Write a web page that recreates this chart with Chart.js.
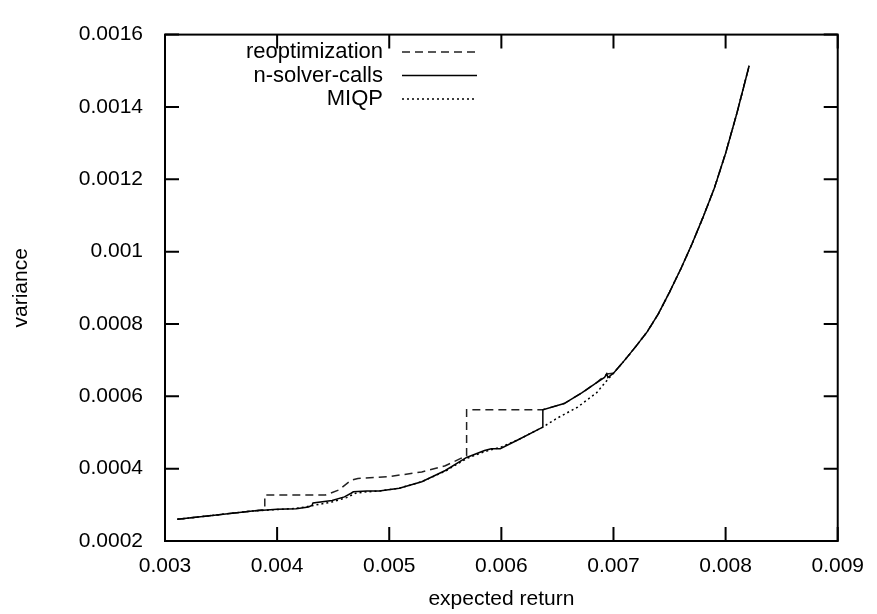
<!DOCTYPE html>
<html>
<head>
<meta charset="utf-8">
<script src="https://cdn.jsdelivr.net/npm/chart.js@4.4.1/dist/chart.umd.min.js"></script>
<style>
  html, body { margin:0; padding:0; background:#fff; }
</style>
</head>
<body>
<canvas id="c" width="877" height="614"></canvas>
<script>
// tick values + labels
const xTicks = [0.003, 0.004, 0.005, 0.006, 0.007, 0.008, 0.009];
const xTickLabels = ['0.003', '0.004', '0.005', '0.006', '0.007', '0.008', '0.009'];
const yTicks = [0.0002, 0.0004, 0.0006, 0.0008, 0.001, 0.0012, 0.0014, 0.0016];
const yTickLabels = ['0.0002', '0.0004', '0.0006', '0.0008', '0.001', '0.0012', '0.0014', '0.0016'];

// upper branch, shared by all three after x ~ 0.007
const topX = [0.00710, 0.00720, 0.00730, 0.00740, 0.00750, 0.00760, 0.00770, 0.00780, 0.00790, 0.00800, 0.00810, 0.00821];
const topY = [0.000700, 0.000738, 0.000778, 0.000828, 0.000888, 0.000952, 0.001021, 0.001096, 0.001176, 0.001272, 0.001382, 0.001514];

// reoptimization (dashed)
const reoptX = [0.00311, 0.00346, 0.00378, 0.00389, 0.00389, 0.00443, 0.00455, 0.00466, 0.00472, 0.00500, 0.00529, 0.00550, 0.00569, 0.00569, 0.00637,
  0.00656, 0.00672, 0.00685, 0.00694, 0.00700];
const reoptY = [0.000260, 0.000272, 0.000283, 0.000287, 0.000327, 0.000327, 0.000341, 0.000368, 0.000373, 0.000378, 0.000391, 0.000408, 0.000436, 0.000563, 0.000563,
  0.000580, 0.000610, 0.000638, 0.000662, 0.000664];

// n-solver-calls (solid)
const nsolvX = [0.00311, 0.00346, 0.00378, 0.00400, 0.00417, 0.00428, 0.00431, 0.00432, 0.00449, 0.00460, 0.00466, 0.00468, 0.00480, 0.00491, 0.00509,
  0.00529, 0.00550, 0.00569, 0.00585, 0.00591, 0.00599, 0.00615, 0.00637, 0.00637, 0.00656, 0.00672, 0.00685, 0.00692, 0.00694, 0.00695, 0.00700];
const nsolvY = [0.000260, 0.000272, 0.000283, 0.000288, 0.000289, 0.000294, 0.000298, 0.000305, 0.000312, 0.000322, 0.000332, 0.000336, 0.000338, 0.000338, 0.000346,
  0.000364, 0.000395, 0.000431, 0.000450, 0.000455, 0.000455, 0.000480, 0.000515, 0.000563, 0.000580, 0.000610, 0.000638, 0.000652, 0.000662, 0.000652, 0.000664];

// MIQP (dotted)
const miqpX = [0.00311, 0.00346, 0.00378, 0.00400, 0.00417, 0.00430, 0.00449, 0.00462, 0.00470, 0.00480, 0.00491, 0.00509, 0.00529, 0.00550, 0.00569,
  0.00585, 0.00600, 0.00615, 0.00637, 0.00650, 0.00668, 0.00685, 0.00695, 0.00700];
const miqpY = [0.000260, 0.000272, 0.000283, 0.000287, 0.000290, 0.000297, 0.000308, 0.000320, 0.000332, 0.000336, 0.000338, 0.000346, 0.000364, 0.000393, 0.000428,
  0.000447, 0.000460, 0.000480, 0.000515, 0.000540, 0.000570, 0.000610, 0.000647, 0.000664];

const pts = (xs, ys) => xs.map((x, i) => ({ x: x, y: ys[i] }));
const mitTop = (xs, ys) => pts(xs.concat(topX), ys.concat(topY));

const fnt = '"Liberation Sans", Arial, Helvetica, sans-serif';

// frame + inward ticks on all four sides (gnuplot look)
const rahmen = {
  id: 'rahmen',
  afterDatasetsDraw(chart) {
    const { ctx, chartArea: a, scales: { x, y } } = chart;
    const tl = 14;
    ctx.save();
    ctx.strokeStyle = '#000';
    ctx.lineWidth = 2;
    ctx.beginPath();
    xTicks.forEach(v => {
      const px = x.getPixelForValue(v);
      ctx.moveTo(px, a.bottom); ctx.lineTo(px, a.bottom - tl);
      ctx.moveTo(px, a.top); ctx.lineTo(px, a.top + tl);
    });
    yTicks.forEach(v => {
      const py = y.getPixelForValue(v);
      ctx.moveTo(a.left, py); ctx.lineTo(a.left + tl, py);
      ctx.moveTo(a.right, py); ctx.lineTo(a.right - tl, py);
    });
    ctx.stroke();
    ctx.strokeRect(a.left, a.top, a.right - a.left, a.bottom - a.top);
    ctx.restore();
  }
};

// legend: text right aligned, line sample to the right
const legende = {
  id: 'legende',
  afterDraw(chart) {
    const { ctx } = chart;
    ctx.save();
    ctx.font = '22px ' + fnt;
    ctx.textAlign = 'right';
    ctx.textBaseline = 'middle';
    chart.data.datasets.forEach((d, i) => {
      const yy = 52 + i * 23.5;
      ctx.fillStyle = '#000';
      ctx.fillText(d.label, 383, yy);
      ctx.strokeStyle = d.borderColor;
      ctx.lineWidth = d.borderWidth;
      ctx.setLineDash(d.borderDash || []);
      ctx.beginPath();
      ctx.moveTo(402, yy);
      ctx.lineTo(477, yy);
      ctx.stroke();
    });
    ctx.restore();
  }
};

new Chart(document.getElementById('c'), {
  type: 'scatter',
  data: {
    datasets: [
      { label: 'reoptimization', data: mitTop(reoptX, reoptY), showLine: true, pointRadius: 0, borderColor: '#222', borderWidth: 1.5, borderDash: [8, 5], order: 1 },
      { label: 'n-solver-calls', data: mitTop(nsolvX, nsolvY), showLine: true, pointRadius: 0, borderColor: '#000', borderWidth: 1.5, order: 0 },
      { label: 'MIQP', data: mitTop(miqpX, miqpY), showLine: true, pointRadius: 0, borderColor: '#000', borderWidth: 1.5, borderDash: [2, 3], order: 2 },
    ]
  },
  options: {
    responsive: false,
    animation: false,
    devicePixelRatio: 1,
    layout: { padding: { top: 21, right: 36, left: 0, bottom: 0 } },
    plugins: { legend: { display: false }, tooltip: { enabled: false } },
    scales: {
      x: {
        type: 'linear', min: 0.003, max: 0.009,
        afterBuildTicks: s => { s.ticks = xTicks.map(v => ({ value: v })) },
        afterFit: s => { s.height = 73 },
        grid: { display: false, drawTicks: false },
        border: { display: false },
        ticks: {
          color: '#000', font: { family: fnt, size: 21 }, padding: 13, maxRotation: 0,
          callback: (v, i) => xTickLabels[i]
        },
        title: { display: true, text: 'expected return', color: '#000', font: { family: fnt, size: 21 }, padding: { top: 0, bottom: 2 } }
      },
      y: {
        type: 'linear', min: 0.0002, max: 0.0016,
        afterBuildTicks: s => { s.ticks = yTicks.map(v => ({ value: v })) },
        afterFit: s => { s.width = 165 },
        grid: { display: false, drawTicks: false },
        border: { display: false },
        ticks: {
          color: '#000', font: { family: fnt, size: 21 }, padding: 22,
          callback: (v, i) => yTickLabels[i]
        },
        title: { display: true, text: 'variance', color: '#000', font: { family: fnt, size: 21 }, padding: { top: 9, bottom: 0 } }
      }
    }
  },
  plugins: [rahmen, legende]
});
</script>
</body>
</html>
